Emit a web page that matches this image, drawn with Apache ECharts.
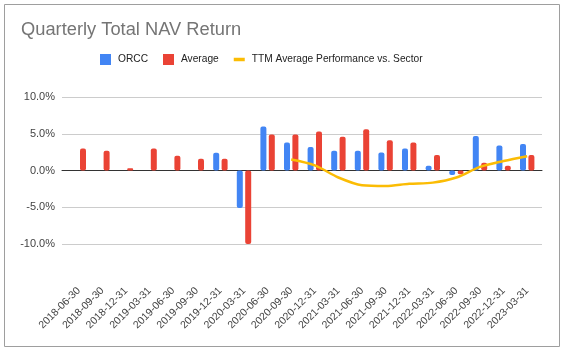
<!DOCTYPE html>
<html>
<head>
<meta charset="utf-8">
<script src="https://cdn.jsdelivr.net/npm/echarts@6/dist/echarts.min.js"></script>
<style>
  html, body { margin: 0; padding: 0; background: #fff; }
  #main { width: 565px; height: 353px; }
</style>
</head>
<body>
<div id="main"></div>
<script>
// quarter ends
var quarters = ['2018-06-30', '2018-09-30', '2018-12-31', '2019-03-31', '2019-06-30',
  '2019-09-30', '2019-12-31', '2020-03-31', '2020-06-30', '2020-09-30',
  '2020-12-31', '2021-03-31', '2021-06-30', '2021-09-30', '2021-12-31',
  '2022-03-31', '2022-06-30', '2022-09-30', '2022-12-31', '2023-03-31'];

// NAV return, %
var orcc = [null, null, null, null, null, null, 2.4, -5.1, 6.0, 3.8,
  3.2, 2.7, 2.7, 2.45, 3.0, 0.65, -0.6, 4.7, 3.4, 3.6];
var average = [3.0, 2.7, 0.3, 3.0, 2.0, 1.6, 1.6, -10.0, 4.9, 4.9,
  5.3, 4.6, 5.6, 4.1, 3.8, 2.1, -0.5, 1.05, 0.65, 2.1];
var ttm = [null, null, null, null, null, null, null, null, null, 1.5,
  0.7, -0.95, -2.0, -2.1, -1.8, -1.65, -0.95, 0.5, 1.3, 1.95];

var yTicks = [-10, -5, 0, 5, 10];

var chart = echarts.init(document.getElementById('main'), null, { renderer: 'canvas' });

var font = 'Arial, "Liberation Sans", sans-serif';

var option = {
  animation: false,
  backgroundColor: '#fff',
  textStyle: { fontFamily: font },
  title: {
    text: 'Quarterly Total NAV Return',
    left: 21,
    top: 21,
    padding: 0,
    textStyle: { fontSize: 18.3, fontWeight: 'normal', color: '#757575', fontFamily: font }
  },
  legend: {
    left: 100,
    top: 54,
    padding: 0,
    itemWidth: 11,
    itemHeight: 11,
    itemGap: 15,
    textStyle: { fontSize: 10.2, color: '#222', fontFamily: font, padding: [0, 0, 0, 2] },
    data: [
      { name: 'ORCC', icon: 'rect' },
      { name: 'Average', icon: 'rect' },
      { name: 'TTM Average Performance vs. Sector', icon: 'path://M0,0h11v3.5h-11z' }
    ]
  },
  graphic: [{
    type: 'rect',
    shape: { x: 4.5, y: 4.5, width: 555, height: 342 },
    style: { fill: 'none', stroke: '#9e9e9e', lineWidth: 1 },
    silent: true
  }],
  grid: [
    { left: 62, right: 23, top: 97, bottom: 109 },
    { left: 67, right: 26, top: 97, bottom: 109 }
  ],
  xAxis: [
    {
      gridIndex: 0, type: 'value', min: 0, max: 1,
      axisLine: { show: true, onZero: true, lineStyle: { color: '#333', width: 1 } },
      axisTick: { show: false }, axisLabel: { show: false }, splitLine: { show: false }
    },
    {
      gridIndex: 1, type: 'category', data: quarters,
      axisLine: { show: false, onZero: false },
      axisTick: { show: false },
      axisLabel: { rotate: 45, margin: 45, interval: 0, fontSize: 10.5, color: '#444', fontFamily: font }
    }
  ],
  yAxis: [
    {
      gridIndex: 0, type: 'value', min: yTicks[0], max: yTicks[yTicks.length - 1], interval: 5,
      axisLine: { show: false }, axisTick: { show: false },
      axisLabel: { fontSize: 11, color: '#444', margin: 7, fontFamily: font,
        formatter: function (v) { return v.toFixed(1) + '%'; } },
      splitLine: { lineStyle: { color: '#ccc', width: 1 } }
    },
    {
      gridIndex: 1, type: 'value', min: yTicks[0], max: yTicks[yTicks.length - 1], interval: 5,
      axisLine: { show: false }, axisTick: { show: false },
      axisLabel: { show: false }, splitLine: { show: false }
    }
  ],
  series: [
    {
      name: 'ORCC', type: 'bar', xAxisIndex: 1, yAxisIndex: 1,
      data: orcc, barWidth: 6, barGap: '40%',
      itemStyle: { color: '#4285F4', borderRadius: 2 }
    },
    {
      name: 'Average', type: 'bar', xAxisIndex: 1, yAxisIndex: 1,
      data: average, barWidth: 6, barGap: '40%',
      itemStyle: { color: '#EA4335', borderRadius: 2 }
    },
    {
      name: 'TTM Average Performance vs. Sector', type: 'line', xAxisIndex: 1, yAxisIndex: 1,
      data: ttm, smooth: 0.3, showSymbol: false, connectNulls: false,
      lineStyle: { color: '#FBBC04', width: 2.5 },
      itemStyle: { color: '#FBBC04' },
      z: 5
    }
  ]
};

chart.setOption(option);
</script>
</body>
</html>
